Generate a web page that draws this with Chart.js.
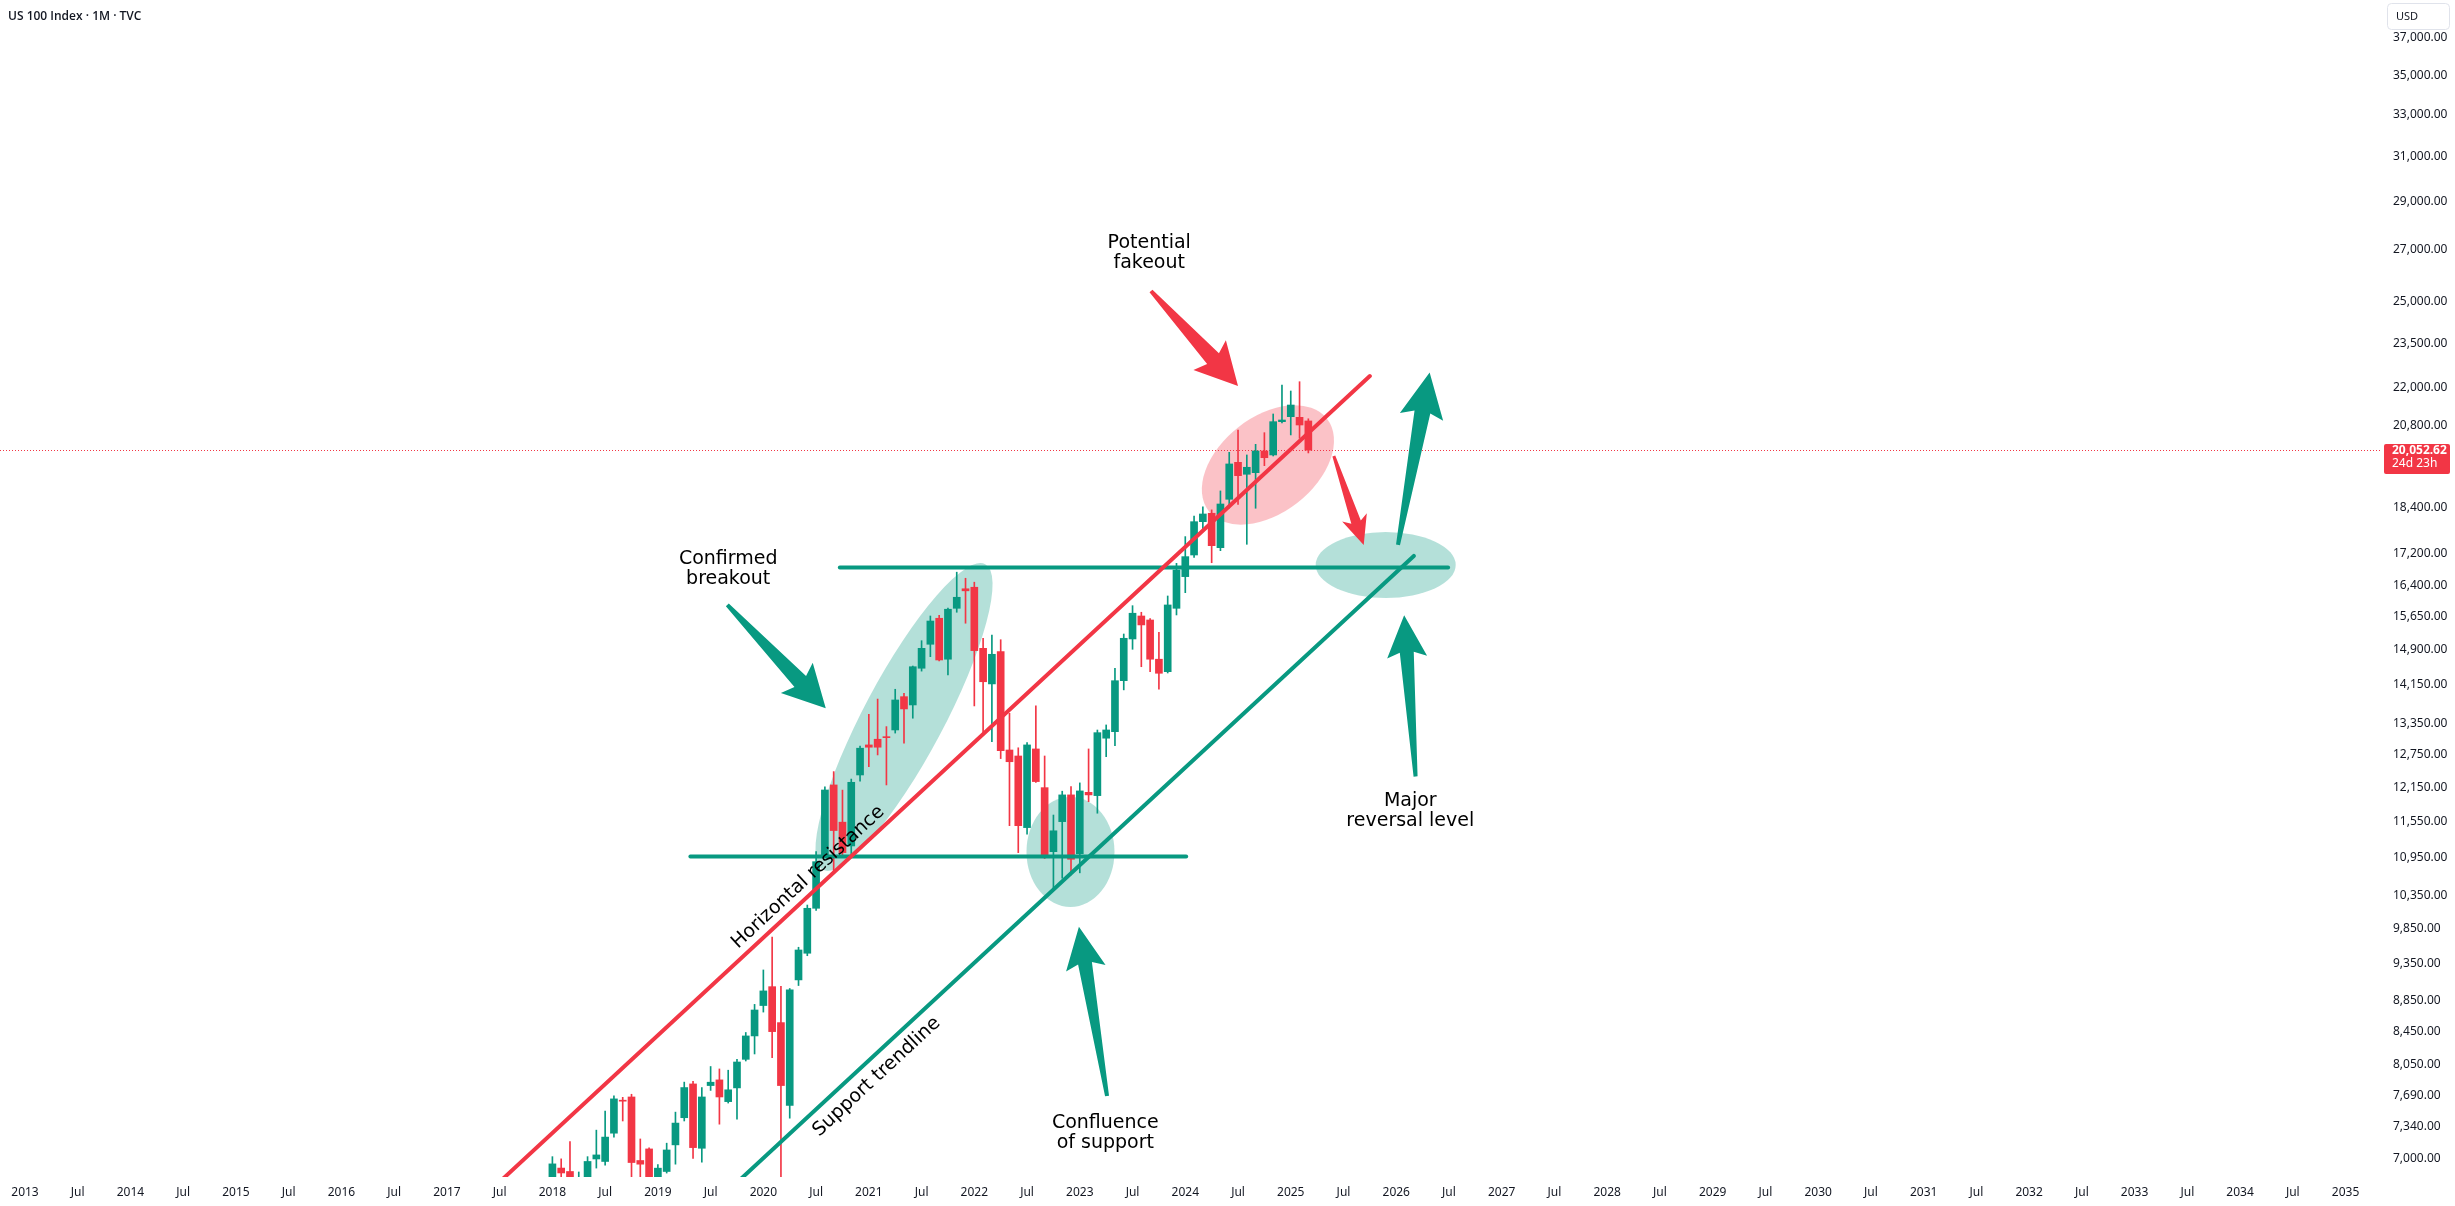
<!DOCTYPE html>
<html><head><meta charset="utf-8">
<script src="https://cdn.jsdelivr.net/npm/chart.js@4.4.1/dist/chart.umd.min.js"></script>
<style>html,body{margin:0;padding:0;background:#fff;overflow:hidden}canvas{display:block}</style>
</head><body>
<canvas id="c" width="2455" height="1206"></canvas>
<script>
// ---------------- DATA ----------------
const months = [
 '2018-01','2018-02','2018-03','2018-04','2018-05','2018-06','2018-07','2018-08','2018-09','2018-10','2018-11','2018-12',
 '2019-01','2019-02','2019-03','2019-04','2019-05','2019-06','2019-07','2019-08','2019-09','2019-10','2019-11','2019-12',
 '2020-01','2020-02','2020-03','2020-04','2020-05','2020-06','2020-07','2020-08','2020-09','2020-10','2020-11','2020-12',
 '2021-01','2021-02','2021-03','2021-04','2021-05','2021-06','2021-07','2021-08','2021-09','2021-10','2021-11','2021-12',
 '2022-01','2022-02','2022-03','2022-04','2022-05','2022-06','2022-07','2022-08','2022-09','2022-10','2022-11','2022-12',
 '2023-01','2023-02','2023-03','2023-04','2023-05','2023-06','2023-07','2023-08','2023-09','2023-10','2023-11','2023-12',
 '2024-01','2024-02','2024-03','2024-04','2024-05','2024-06','2024-07','2024-08','2024-09','2024-10','2024-11','2024-12',
 '2025-01','2025-02','2025-03'];
const opens = [
 6435,6900,6865,6590,6610,6994,6968,7267,7630,7669,6978,7099,
 6290,6865,7142,7436,7819,7106,7800,7866,7616,7773,8110,8397,
 8785,9035,8565,7572,9126,9495,10151,10989,12193,11537,11136,12375,
 12940,13050,13100,13231,13902,13732,14502,15028,15620,14698,15853,16320,
 16357,14938,14168,14863,12843,12729,11444,12863,12144,11042,11546,12014,
 11009,12060,12001,13070,13198,14236,15147,15673,15580,14698,14428,15853,
 16617,17160,18031,18258,17347,18641,19694,19347,19393,20029,19910,20920,
 21076,21056,20942];
const highs = [
 7018,6995,7176,6860,7018,7300,7510,7681,7665,7700,7205,7110,
 6935,7160,7498,7840,7850,7777,8024,7995,7980,8110,8440,8800,
 9262,9726,9040,9010,9580,10200,11042,12160,12437,12100,12300,12920,
 13543,13853,13297,14056,13970,14550,15108,15673,15690,15860,16727,16577,
 16480,15162,15237,15130,13563,12885,12985,13712,12729,11660,12080,12162,
 12230,12863,13230,13330,14502,15259,15915,15760,15610,15299,16146,16949,
 17635,18180,18436,18350,18874,19989,20662,19910,20227,20581,21160,22092,
 21895,22200,21010];
const lows = [
 6398,6165,6320,6306,6520,6900,6930,7225,7400,6720,6580,5900,
 6230,6849,6940,7400,7000,6960,7744,7365,7600,7420,8090,8175,
 8700,8131,6770,7431,9050,9460,10120,10960,10718,10961,10990,12260,
 12529,12749,12193,13170,12973,13464,14440,14753,14660,14357,15760,15505,
 13712,13167,13002,12680,11477,11026,11333,12240,10930,10459,10615,10668,
 10700,11893,11691,12716,12927,14043,14916,14535,14428,14056,14400,15697,
 16225,17100,17765,16964,17270,18400,18500,17435,18394,19595,19880,20880,
 20511,20409,19970];
const closes = [
 6943,6850,6581,6605,6968,7036,7225,7647,7621,6957,6940,6330,
 6899,7088,7377,7777,7113,7669,7839,7669,7751,8078,8397,8727,
 8978,8451,7800,8991,9541,10151,10879,12102,11394,11026,12241,12877,
 12896,12896,13080,13834,13651,14535,14938,15556,14681,15831,16115,16270,
 14887,14214,14806,12830,12621,11477,12940,12254,10945,11390,12014,10918,
 12085,12014,13178,13231,14236,15162,15737,15466,14698,14394,15932,16782,
 17118,18031,18238,17400,18511,19646,19307,19549,20029,19829,20920,20972,
 21444,20817,20052.62];
const priceTicks = [7000,7340,7690,8050,8450,8850,9350,9850,10350,10950,11550,12150,12750,13350,
 14150,14900,15650,16400,17200,18400,20800,22000,23500,25000,27000,29000,31000,33000,35000,37000];
const timeTickLabels = ['2013','Jul','2014','Jul','2015','Jul','2016','Jul','2017','Jul','2018','Jul','2019','Jul',
 '2020','Jul','2021','Jul','2022','Jul','2023','Jul','2024','Jul','2025','Jul','2026','Jul','2027','Jul','2028','Jul',
 '2029','Jul','2030','Jul','2031','Jul','2032','Jul','2033','Jul','2034','Jul','2035'];
const lastPrice = 20052.62;
const countdown = '24d 23h';
// drawing anchors in (month index since Jan 2013, price)
const redTrendline   = [[50, 6441], [153.0, 22389]];
const greenTrendline = [[78, 6513], [158.0, 17136]];
const upperLevel     = [[92.7, 16845], [161.9, 16845]];
const lowerLevel     = [[75.7, 10961], [132.1, 10961]];

// ---------------- LAYOUT / STYLE ----------------
const UP = '#089981', DOWN = '#f23645';
const X_MIN = -2.8441, X_MAX = 267.918;
const Y_MIN = 6809, Y_MAX = 39147;
const monthIndex = s => (parseInt(s.slice(0,4)) - 2013) * 12 + parseInt(s.slice(5,7)) - 1;
const mx = months.map(monthIndex);
const colors = closes.map((c,i) => c >= opens[i] ? UP : DOWN);

const ellipses = [
  {m:100.0, v:13488, rx:173, ry:40, rot:-62, color:'rgba(8,153,129,0.3)'},
  {m:118.94, v:11038, rx:44, ry:55, rot:0, color:'rgba(8,153,129,0.3)'},
  {m:154.8, v:16907, rx:70, ry:33, rot:0, color:'rgba(8,153,129,0.3)'},
  {m:141.4, v:19616, rx:75, ry:48, rot:-38, color:'rgba(242,54,69,0.3)'}
];
const arrows = [
  {a:[79.9,15932], b:[91.1,13664], hl:37, hw:22, sw:8, tw:2, color:UP},
  {a:[128.1,25404], b:[138.0,22059], hl:37, hw:22, sw:8, tw:2, color:DOWN},
  {a:[148.9,19880], b:[152.3,17418], hl:24, hw:13, sw:5, tw:1.5, color:DOWN},
  {a:[156.2,17418], b:[159.8,22502], hl:40, hw:22, sw:8, tw:2, color:UP},
  {a:[158.2,12347], b:[156.9,15690], hl:37, hw:20, sw:7, tw:2, color:UP},
  {a:[123.1,7680], b:[119.9,9876], hl:37, hw:20, sw:7, tw:2, color:UP}
];
const notes = [
  {m:80.0, v:16808, lines:['Confirmed','breakout'], rot:0},
  {m:127.9, v:26880, lines:['Potential','fakeout'], rot:0},
  {m:157.6, v:11731, lines:['Major','reversal level'], rot:0},
  {m:122.9, v:7271, lines:['Confluence','of support'], rot:0},
  {m:89.1, v:10628, lines:['Horizontal resistance'], rot:-42.8},
  {m:96.9, v:7901, lines:['Support trendline'], rot:-42.8}
];
const AXIS_FONT = '"Noto Sans", Roboto, sans-serif';
const NOTE_FONT = '19px "DejaVu Sans", Verdana, sans-serif';

function drawArrow(ctx, x0, y0, x1, y1, o) {
  const dx = x1-x0, dy = y1-y0, L = Math.hypot(dx,dy), ux = dx/L, uy = dy/L, vx = -uy, vy = ux;
  const P = (u,v) => [x0+ux*u+vx*v, y0+uy*u+vy*v];
  const pts = [P(0,-o.tw), P(L-o.hl,-o.sw), P(L-o.hl-5,-o.hw), P(L,0), P(L-o.hl-5,o.hw), P(L-o.hl,o.sw), P(0,o.tw)];
  ctx.beginPath(); ctx.moveTo(pts[0][0],pts[0][1]);
  for (let i=1;i<pts.length;i++) ctx.lineTo(pts[i][0],pts[i][1]);
  ctx.closePath(); ctx.fillStyle = o.color; ctx.fill();
}

const overlay = {
  id:'overlay',
  beforeDatasetsDraw(chart){
    const {ctx, chartArea:a, scales:{x,y}} = chart;
    ctx.save();
    ctx.beginPath(); ctx.rect(a.left,a.top,a.right-a.left,a.bottom-a.top); ctx.clip();
    ctx.strokeStyle = DOWN; ctx.lineWidth = 1; ctx.setLineDash([1,2]);
    const py = Math.round(y.getPixelForValue(lastPrice)) + 0.5;
    ctx.beginPath(); ctx.moveTo(a.left,py); ctx.lineTo(a.right,py); ctx.stroke();
    ctx.setLineDash([]);
    for (const e of ellipses) {
      ctx.beginPath();
      ctx.ellipse(x.getPixelForValue(e.m), y.getPixelForValue(e.v), e.rx, e.ry, e.rot*Math.PI/180, 0, Math.PI*2);
      ctx.fillStyle = e.color; ctx.fill();
    }
    ctx.restore();
  },
  afterDatasetsDraw(chart){
    const {ctx, chartArea:a, scales:{x,y}} = chart;
    ctx.save();
    ctx.beginPath(); ctx.rect(a.left,a.top,a.right-a.left,a.bottom-a.top); ctx.clip();
    for (const r of arrows) {
      drawArrow(ctx, x.getPixelForValue(r.a[0]), y.getPixelForValue(r.a[1]),
                     x.getPixelForValue(r.b[0]), y.getPixelForValue(r.b[1]), r);
    }
    ctx.font = NOTE_FONT; ctx.fillStyle = '#000'; ctx.textAlign = 'center'; ctx.textBaseline = 'middle';
    for (const n of notes) {
      ctx.save();
      ctx.translate(x.getPixelForValue(n.m), y.getPixelForValue(n.v));
      ctx.rotate(n.rot*Math.PI/180);
      const lh = 20, y0 = -(n.lines.length-1)*lh/2;
      n.lines.forEach((t,i) => ctx.fillText(t, 0, y0 + i*lh));
      ctx.restore();
    }
    ctx.restore();
  },
  afterDraw(chart){
    const {ctx, scales:{y}} = chart;
    ctx.save();
    ctx.fillStyle = '#131722'; ctx.font = '600 12px "Open Sans", "Noto Sans", sans-serif';
    ctx.textBaseline = 'middle'; ctx.textAlign = 'left';
    ctx.fillText('US 100 Index · 1M · TVC', 8, 17);
    ctx.strokeStyle = '#e0e3eb'; ctx.lineWidth = 1;
    ctx.beginPath(); ctx.roundRect(2387.5, 3.5, 62, 26, 4); ctx.stroke();
    ctx.font = '11px ' + AXIS_FONT; ctx.fillStyle = '#131722';
    ctx.fillText('USD', 2396, 17);
    const py = Math.round(y.getPixelForValue(lastPrice));
    ctx.fillStyle = DOWN;
    ctx.beginPath(); ctx.roundRect(2384, py-6, 66, 30, 2); ctx.fill();
    ctx.fillStyle = '#fff';
    ctx.font = 'bold 12px ' + AXIS_FONT; ctx.fillText(lastPrice.toLocaleString('en-US',{minimumFractionDigits:2}), 2392, py+1);
    ctx.font = '12px ' + AXIS_FONT; ctx.fillText(countdown, 2392, py+14);
    ctx.restore();
  }
};

const lineDs = (pts, color) => ({
  type:'line', data: pts.map(([m,v]) => ({x:m, y:v})), borderColor: color, borderWidth: 4,
  borderCapStyle:'round', pointRadius:0, tension:0, order:0
});

new Chart(document.getElementById('c'), {
  type:'bar',
  data:{ datasets:[
    lineDs(redTrendline, DOWN),
    lineDs(greenTrendline, UP),
    lineDs(upperLevel, UP),
    lineDs(lowerLevel, UP),
    { data: mx.map((m,i) => ({x:m, y:[opens[i], closes[i]]})), backgroundColor: colors,
      barThickness:7, minBarLength:1, grouped:false, order:1 },
    { data: mx.map((m,i) => ({x:m, y:[lows[i], highs[i]]})), backgroundColor: colors,
      barThickness:1, grouped:false, order:2 }
  ]},
  options:{
    responsive:false, animation:false, devicePixelRatio:1,
    layout:{padding:0},
    plugins:{legend:{display:false}, tooltip:{enabled:false}},
    scales:{
      x:{ type:'linear', min:X_MIN, max:X_MAX, offset:false,
          grid:{display:false, drawTicks:false, offset:false}, border:{display:false},
          ticks:{autoSkip:false, maxRotation:0, padding:8, color:'#131722',
                 font:{size:12, family:AXIS_FONT}, callback:(v,i) => timeTickLabels[i]},
          afterBuildTicks: s => { s.ticks = timeTickLabels.map((l,i) => ({value:i*6})); },
          afterFit: s => { s.height = 29; s.paddingLeft = 0; s.paddingRight = 0; } },
      y:{ type:'logarithmic', position:'right', min:Y_MIN, max:Y_MAX, beginAtZero:false,
          grid:{display:false, drawTicks:false}, border:{display:false},
          ticks:{autoSkip:false, padding:13, color:'#131722', font:{size:12, family:AXIS_FONT},
                 callback: v => Number(v).toLocaleString('en-US',{minimumFractionDigits:2, maximumFractionDigits:2})},
          afterBuildTicks: s => { s.ticks = priceTicks.map(v => ({value:v})); },
          afterFit: s => { s.width = 75; s.paddingTop = 0; s.paddingBottom = 0; } }
    }
  },
  plugins:[overlay]
});
</script>
</body></html>
